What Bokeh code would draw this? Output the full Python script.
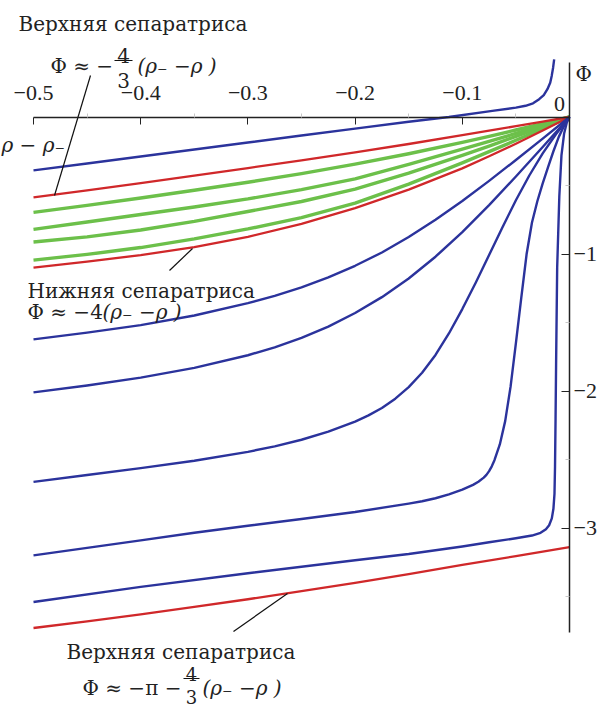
from bokeh.plotting import figure
from bokeh.models import Range1d, FixedTicker, Label
from bokeh.embed import file_html
from bokeh.resources import INLINE

# ---------------- data ----------------
BLUE_TOP_X = [-0.5, -0.45, -0.4, -0.35, -0.3, -0.25, -0.2, -0.15, -0.1125, -0.072, -0.05, -0.041,
              -0.034, -0.0283, -0.024, -0.0206, -0.018, -0.0166, -0.0153, -0.0143]
BLUE_TOP_Y = [-0.39, -0.339, -0.288, -0.237, -0.186, -0.135, -0.085, -0.035, 0.0, 0.045, 0.068, 0.082,
              0.100, 0.13, 0.16, 0.203, 0.25, 0.30, 0.36, 0.42]

FAN_X = [-0.5, -0.45, -0.4, -0.35, -0.3, -0.25, -0.2, -0.15, -0.1, -0.075, -0.05, -0.025, 0.0]
RED_UPPER_Y = [-0.587, -0.535, -0.483, -0.428, -0.373, -0.316, -0.258, -0.197, -0.133, -0.100, -0.067, -0.033, 0.0]
GREEN1_Y = [-0.696, -0.645, -0.591, -0.535, -0.476, -0.413, -0.344, -0.268, -0.185, -0.141, -0.095, -0.048, 0.0]
GREEN2_Y = [-0.82, -0.766, -0.712, -0.657, -0.598, -0.53, -0.452, -0.345, -0.235, -0.178, -0.12, -0.06, 0.0]
GREEN3_Y = [-0.912, -0.875, -0.825, -0.762, -0.69, -0.617, -0.527, -0.41, -0.28, -0.212, -0.142, -0.071, 0.0]
GREEN4_Y = [-1.045, -1.003, -0.953, -0.89, -0.817, -0.735, -0.628, -0.49, -0.335, -0.253, -0.17, -0.085, 0.0]
RED_LOWER_Y = [-1.10, -1.055, -1.008, -0.95, -0.875, -0.78, -0.665, -0.53, -0.375, -0.287, -0.195, -0.099, 0.0]

LB12_X = [-0.5, -0.45, -0.4, -0.35, -0.3, -0.275, -0.25, -0.225, -0.2, -0.175, -0.15, -0.125, -0.1,
          -0.075, -0.05, -0.025, 0.0]
LB1_Y = [-1.623, -1.574, -1.519, -1.449, -1.359, -1.305, -1.243, -1.170, -1.086, -0.989, -0.876, -0.750,
         -0.613, -0.466, -0.314, -0.158, 0.0]
LB2_Y = [-2.010, -1.960, -1.902, -1.831, -1.739, -1.681, -1.612, -1.530, -1.431, -1.315, -1.179, -1.020,
         -0.840, -0.643, -0.434, -0.219, 0.0]

LB3_X = [-0.5, -0.45, -0.4, -0.35, -0.3, -0.275, -0.25, -0.225, -0.2, -0.1875, -0.175, -0.1625, -0.15,
         -0.1375, -0.125, -0.1125, -0.1, -0.0875, -0.075, -0.0625, -0.05, -0.0375, -0.025, -0.0125, 0.0]
LB3_Y = [-2.663, -2.613, -2.563, -2.509, -2.444, -2.404, -2.356, -2.297, -2.223, -2.178, -2.124, -2.056, -1.972,
         -1.867, -1.737, -1.580, -1.402, -1.210, -1.008, -0.804, -0.608, -0.427, -0.266, -0.124, 0.0]

LB4_X = [-0.5, -0.45, -0.4, -0.35, -0.3, -0.25, -0.2, -0.15, -0.1375, -0.125, -0.1125, -0.1, -0.09, -0.085,
         -0.08, -0.0775, -0.075, -0.0725, -0.07, -0.065, -0.06, -0.055, -0.05, -0.045, -0.04, -0.035, -0.03,
         -0.025, -0.02, -0.015, -0.01, -0.005, 0.0]
LB4_Y = [-3.20, -3.145, -3.09, -3.035, -2.984, -2.934, -2.883, -2.822, -2.805, -2.783, -2.755, -2.72, -2.685,
         -2.662, -2.632, -2.612, -2.585, -2.55, -2.505, -2.39, -2.22, -1.97, -1.65, -1.32, -1.0, -0.77, -0.615,
         -0.485, -0.365, -0.25, -0.145, -0.063, 0.0]

LB5_X = [-0.5, -0.4, -0.3, -0.2, -0.15, -0.1, -0.075, -0.05, -0.035, -0.027, -0.022, -0.019, -0.0165, -0.015,
         -0.014, -0.0135, -0.013, -0.0125, -0.0115, -0.0095, -0.0075, -0.005, -0.0025, 0.0]
LB5_Y = [-3.54, -3.43, -3.33, -3.235, -3.19, -3.135, -3.104, -3.075, -3.055, -3.035, -3.009, -2.98, -2.93, -2.86,
         -2.75, -2.55, -2.2, -1.8, -1.1, -0.58, -0.28, -0.12, -0.04, 0.0]

RED_BOTTOM_X = [-0.5, -0.45, -0.4, -0.35, -0.3, -0.25, -0.2, -0.15, -0.1, -0.05, 0.0]
RED_BOTTOM_Y = [-3.73, -3.682, -3.63, -3.576, -3.52, -3.461, -3.40, -3.336, -3.27, -3.205, -3.14]

X_TICKS = [-0.5, -0.4, -0.3, -0.2, -0.1, 0.0]
X_TICK_LABELS = ["\u22120.5", "\u22120.4", "\u22120.3", "\u22120.2", "\u22120.1", ""]
X_MINOR = [-0.45, -0.35, -0.25, -0.15, -0.05]
Y_TICKS = [-1, -2, -3]
Y_TICK_LABELS = ["\u22121", "\u22122", "\u22123"]
Y_MINOR = [-0.5, -1.5, -2.5, -3.5]

# ---------------- layout ----------------
W, H = 599, 712
OFF = 8                       # page margin
PX_XA, PX_XB = 41, 577        # page pixels of x = -0.5 and x = 0
PY_Y0, PY_UNIT = 124.5, 137.0 # page pixel of y = 0 and pixels per unit
SX = (PX_XB - PX_XA) / 0.5
x_start = -0.5 - (PX_XA - OFF) / SX
x_end = x_start + W / SX
y_end = (PY_Y0 - OFF) / PY_UNIT
y_start = y_end - H / PY_UNIT


def dx(px):
    return -0.5 + (px - PX_XA) / SX


def dy(py):
    return (PY_Y0 - py) / PY_UNIT


FONT = "DejaVu Serif"
TICK_FONT = "Liberation Serif"
INK = "#222222"
BLUE = "#2b339c"
RED = "#d0282a"
GREEN = "#6cc04a"

p = figure(width=W, height=H, x_range=Range1d(x_start, x_end), y_range=Range1d(y_start, y_end),
           output_backend="svg", toolbar_location=None,
           x_axis_location="above", y_axis_location="right", min_border=0)
p.outline_line_color = None
p.grid.visible = False
p.background_fill_color = "white"
p.border_fill_color = "white"

xa = p.xaxis[0]
xa.fixed_location = 0
xa.bounds = (-0.5, 0.0)
xa.ticker = FixedTicker(ticks=X_TICKS, minor_ticks=X_MINOR)
xa.major_label_overrides = {t: s for t, s in zip(X_TICKS, X_TICK_LABELS)}
xa.major_tick_in = 7
xa.major_tick_out = 0
xa.minor_tick_in = 0
xa.minor_tick_out = 4
xa.minor_tick_line_color = "#c8c8c8"
xa.axis_line_color = INK
xa.axis_line_width = 1.5
xa.major_tick_line_color = INK
xa.major_label_text_font = TICK_FONT
xa.major_label_text_font_size = "22px"
xa.major_label_text_color = INK
xa.major_label_standoff = 13

ya = p.yaxis[0]
ya.fixed_location = 0
ya.bounds = (dy(640), dy(70))
ya.ticker = FixedTicker(ticks=Y_TICKS, minor_ticks=Y_MINOR)
ya.major_label_overrides = {t: s for t, s in zip(Y_TICKS, Y_TICK_LABELS)}
ya.major_tick_in = 8
ya.major_tick_out = 0
ya.minor_tick_in = 4
ya.minor_tick_out = 0
ya.minor_tick_line_color = "#c8c8c8"
ya.axis_line_color = INK
ya.axis_line_width = 1.5
ya.major_tick_line_color = INK
ya.major_label_text_font = TICK_FONT
ya.major_label_text_font_size = "22px"
ya.major_label_text_color = INK
ya.major_label_standoff = 4

# ---------------- curves ----------------
for gy in [GREEN1_Y, GREEN2_Y, GREEN3_Y, GREEN4_Y]:
    p.line(FAN_X, gy, line_color=GREEN, line_width=3.4, line_join="round")
p.line(FAN_X, RED_UPPER_Y, line_color=RED, line_width=2.3, line_join="round")
p.line(FAN_X, RED_LOWER_Y, line_color=RED, line_width=2.3, line_join="round")
p.line(RED_BOTTOM_X, RED_BOTTOM_Y, line_color=RED, line_width=2.3, line_join="round")
p.line(BLUE_TOP_X, BLUE_TOP_Y, line_color=BLUE, line_width=2.4, line_join="round")
for bx, by in [(LB12_X, LB1_Y), (LB12_X, LB2_Y), (LB3_X, LB3_Y), (LB4_X, LB4_Y), (LB5_X, LB5_Y)]:
    p.line(bx, by, line_color=BLUE, line_width=2.4, line_join="round")

# ---------------- annotations ----------------
# leader lines and fraction bars (page-pixel positions)
LEADERS = [((98, 83), (62, 203)), ((177, 278), (200, 256)), ((241, 639), (295, 601))]
BARS = [((122, 68), (140, 68)), ((191, 686), (207, 686))]
segs = LEADERS + BARS
p.segment(x0=[dx(a[0]) for a, b in segs], y0=[dy(a[1]) for a, b in segs],
          x1=[dx(b[0]) for a, b in segs], y1=[dy(b[1]) for a, b in segs],
          line_color="#111111", line_width=1.2)


def lab(text, px, py, size="20px", align="left", style="normal", font=FONT):
    p.add_layout(Label(x=dx(px), y=dy(py), text=text, text_font=font, text_font_size=size,
                       text_align=align, text_baseline="alphabetic", text_color=INK,
                       text_font_style=style))


lab("0", 567, 111, size="22px", align="center", font=TICK_FONT)
lab("\u03a6", 583, 81, size="20px")
lab("\u03c1 \u2212 \u03c1\u208b", 9, 152, style="italic")

lab("Верхняя сепаратриса", 26, 31)
lab("\u03a6 \u2248 \u2212", 58, 73)
lab("4", 131, 63, align="center")
lab("3", 131, 88, align="center")
lab("(\u03c1\u208b \u2212\u03c1 )", 145, 73, style="italic")

lab("Нижняя сепаратриса", 35, 298)
lab("\u03a6 \u2248 \u22124", 35, 319)
lab("(\u03c1\u208b \u2212\u03c1 )", 110, 319, style="italic")

lab("Верхняя сепаратриса", 74, 659)
lab("\u03a6 \u2248 \u2212\u03c0 \u2212", 90, 695)
lab("4", 199, 681, size="18px", align="center")
lab("3", 199, 704, size="18px", align="center")
lab("(\u03c1\u208b \u2212\u03c1 )", 210, 695, style="italic")

open("out.html", "w").write(file_html(p, INLINE))
